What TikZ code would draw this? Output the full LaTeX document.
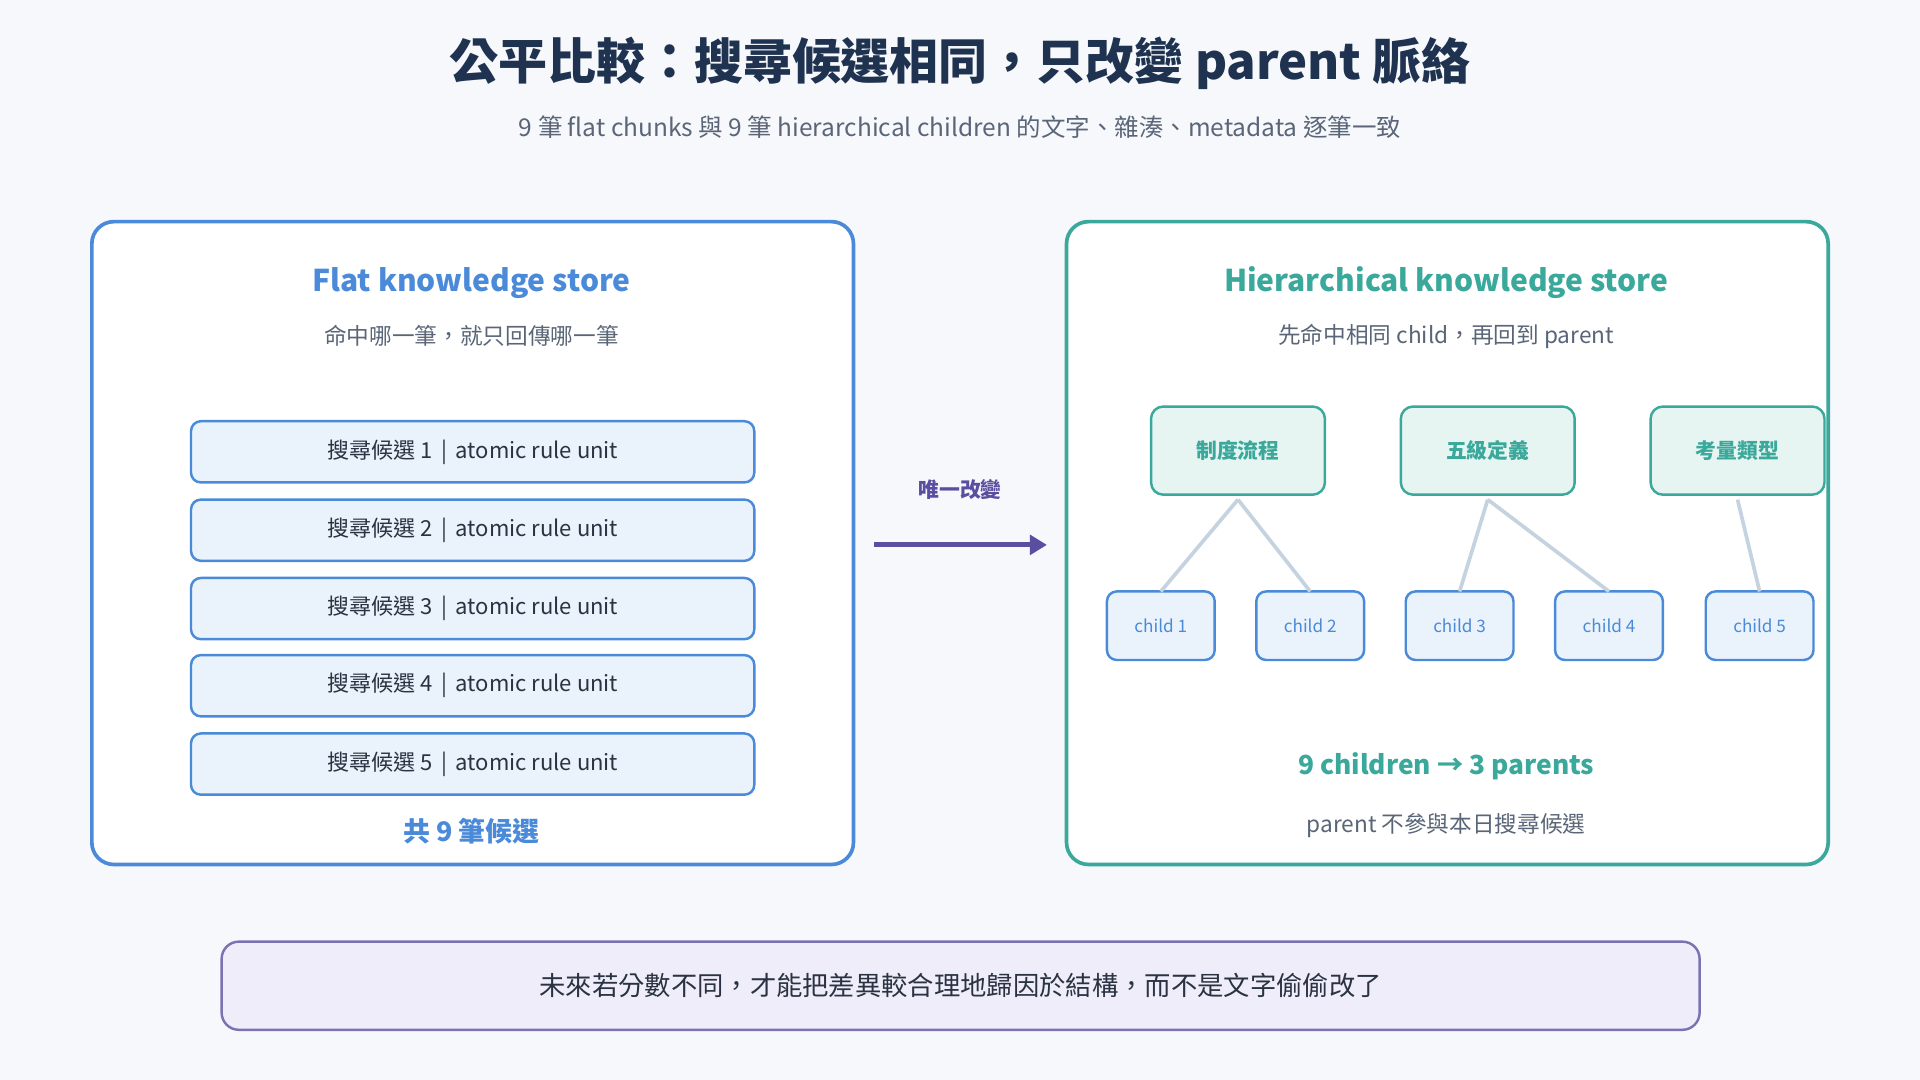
\documentclass[tikz,border=0pt]{standalone}
\usepackage{fontspec}
\setmainfont{Noto Sans CJK TC}
\usetikzlibrary{arrows.meta}
\definecolor{bg}{HTML}{F6F8FC}
\definecolor{navy}{HTML}{1F3350}
\definecolor{gr}{HTML}{5A6678}
\definecolor{blu}{HTML}{4A8AD8}
\definecolor{blufill}{HTML}{EAF3FB}
\definecolor{teal}{HTML}{3AA89A}
\definecolor{tealfill}{HTML}{E6F5F1}
\definecolor{pur}{HTML}{5B4EA0}
\definecolor{purfill}{HTML}{EFEDF9}
\definecolor{edge}{HTML}{C5D3E0}
\definecolor{dark}{HTML}{2A3342}
\tikzset{
 fs/.style={font=\fontsize{#1}{#1}\selectfont},
 fsb/.style={font=\fontsize{#1}{#1}\selectfont\bfseries},
 row/.style={draw=blu,line width=2pt,fill=blufill,rounded corners=8pt,minimum width=460pt,minimum height=50pt,text=dark,fs=18},
 par/.style={draw=teal,line width=2pt,fill=tealfill,rounded corners=10pt,minimum width=142pt,minimum height=72pt,text=teal,fsb=17},
 chi/.style={draw=blu,line width=2pt,fill=blufill,rounded corners=8pt,minimum width=88pt,minimum height=56pt,text=blu,fs=14},
 tree/.style={draw=edge,line width=3pt},
}
\begin{document}
\begin{tikzpicture}[x=1pt,y=-1pt]
\fill[bg] (0,0) rectangle (1568,882);
\useasboundingbox (0,0) rectangle (1568,882);
\node[fsb=40,text=navy] (title) at (784,52) {公平比較：搜尋候選相同，只改變 parent 脈絡};
\node[fs=20,text=gr] (sub) at (784,104) {9 筆 flat chunks 與 9 筆 hierarchical children 的文字、雜湊、metadata 逐筆一致};
% left panel
\draw[blu,line width=3pt,fill=white,rounded corners=18pt] (75,181) rectangle (697,706);
\node[fsb=24.5,text=blu] (lt) at (385,231) {Flat knowledge store};
\node[fs=18.5,text=gr] (ls) at (385,274) {命中哪一筆，就只回傳哪一筆};
\foreach \i/\y in {1/369,2/433,3/497,4/560,5/624}
  \node[row] (r\i) at (386,\y) {搜尋候選 \i{} \,|\, atomic rule unit};
\node[fsb=22,text=blu] (tot) at (385,679) {共 9 筆候選};
% arrow
\coordinate (a1) at (714,445);
\coordinate (a2) at (855,445);
\draw[pur,line width=4pt,-{Triangle[length=14pt,width=16pt]}] (a1) -- (a2);
\node[fsb=17,text=pur] (al) at (784,400) {唯一改變};
% right panel
\draw[teal,line width=3pt,fill=white,rounded corners=18pt] (871,181) rectangle (1493,706);
\node[fsb=24.5,text=teal] (rt) at (1181,231) {Hierarchical knowledge store};
\node[fs=18.5,text=gr] (rs) at (1181,275) {先命中相同 child，再回到 parent};
\node[par] (p1) at (1011,368) {制度流程};
\node[par] (p2) at (1215,368) {五級定義};
\node[par] (p3) at (1419,368) {考量類型};
\foreach \i/\x in {1/948,2/1070,3/1192,4/1314,5/1437}
  \node[chi] (c\i) at (\x,511) {child \i};
\coordinate (b1) at (1011,408);
\coordinate (b2) at (1215,408);
\coordinate (b3) at (1419,408);
\draw[tree] (b1) -- ([yshift=-1pt]c1.north);
\draw[tree] (b1) -- ([yshift=-1pt]c2.north);
\draw[tree] (b2) -- ([yshift=-1pt]c3.north);
\draw[tree] (b2) -- ([yshift=-1pt]c4.north);
\draw[tree] (b3) -- ([yshift=-1pt]c5.north);
\node[fsb=21.5,text=teal] (cnt) at (1181,626) {9 children → 3 parents};
\node[fs=18.5,text=gr] (note) at (1181,674) {parent 不參與本日搜尋候選};
% bottom
\node[draw=pur!80,line width=2pt,fill=purfill,rounded corners=14pt,minimum width=1207pt,minimum height=72pt,fs=21.5,text=dark] (bot) at (784.5,805) {未來若分數不同，才能把差異較合理地歸因於結構，而不是文字偷偷改了};
\end{tikzpicture}
\end{document}
